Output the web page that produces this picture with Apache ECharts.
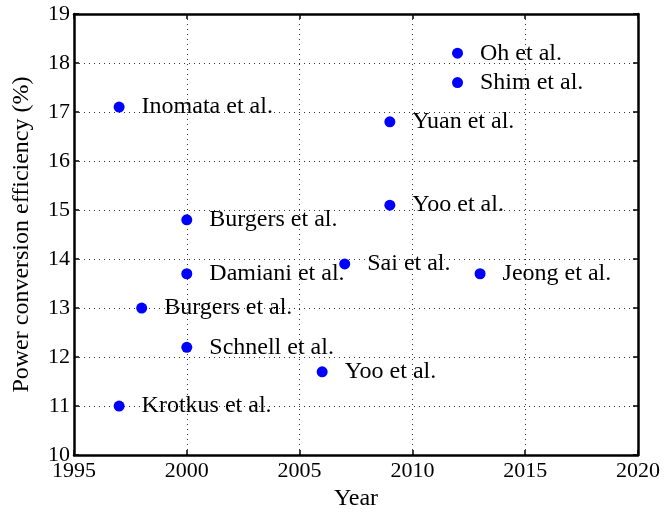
<!DOCTYPE html>
<html>
<head>
<meta charset="utf-8">
<script src="https://cdn.jsdelivr.net/npm/echarts@6/dist/echarts.min.js"></script>
<style>
  html, body { margin: 0; padding: 0; background: #fff; }
  #chart { width: 664px; height: 516px; }
</style>
</head>
<body>
<div id="chart"></div>
<script>
// values
var years = [1997, 2012, 2012, 2009, 2009, 2000, 2000, 2007, 2013, 1998, 2000, 2006, 1997]
var efficiency = [17.1, 18.2, 17.6, 16.8, 15.1, 14.8, 13.7, 13.9, 13.7, 13.0, 12.2, 11.7, 11.0]
var authors = ['Inomata et al.', 'Oh et al.', 'Shim et al.', 'Yuan et al.', 'Yoo et al.',
  'Burgers et al.', 'Damiani et al.', 'Sai et al.', 'Jeong et al.', 'Burgers et al.',
  'Schnell et al.', 'Yoo et al.', 'Krotkus et al.']

var serif = 'Liberation Serif'

var points = years.map(function (y, i) {
  return { value: [y, efficiency[i]], name: authors[i] }
})

var frame = { onZero: false, lineStyle: { color: '#000', width: 2.5 } }
var ticks = { inside: true, length: 5, lineStyle: { color: '#000', width: 1.5 } }
var grid = { show: true, lineStyle: { color: '#333', type: [1, 4], width: 1 } }

var chart = echarts.init(document.getElementById('chart'))
chart.setOption({
  animation: false,
  textStyle: { fontFamily: serif },
  grid: { left: 74, right: 26, top: 14, bottom: 57 },
  xAxis: [{
    type: 'value',
    min: 1995,
    max: 2020,
    interval: 5,
    name: 'Year',
    nameLocation: 'middle',
    nameGap: 31,
    nameTextStyle: { color: '#000', fontSize: 24, fontFamily: serif },
    axisLine: frame,
    axisTick: ticks,
    axisLabel: { color: '#000', fontSize: 22, fontFamily: serif, margin: 5, formatter: function (v) { return String(v) } },
    splitLine: grid
  }, {
    type: 'value',
    position: 'top',
    min: 1995,
    max: 2020,
    interval: 5,
    axisLine: frame,
    axisTick: ticks,
    axisLabel: { show: false },
    splitLine: { show: false }
  }],
  yAxis: [{
    type: 'value',
    min: 10,
    max: 19,
    interval: 1,
    name: 'Power conversion efficiency (%)',
    nameLocation: 'middle',
    nameGap: 40,
    nameTextStyle: { color: '#000', fontSize: 24, fontFamily: serif },
    axisLine: frame,
    axisTick: ticks,
    axisLabel: { color: '#000', fontSize: 22, fontFamily: serif, margin: 4 },
    splitLine: grid
  }, {
    type: 'value',
    position: 'right',
    min: 10,
    max: 19,
    interval: 1,
    axisLine: frame,
    axisTick: ticks,
    axisLabel: { show: false },
    splitLine: { show: false }
  }],
  series: [{
    type: 'scatter',
    symbolSize: 11,
    itemStyle: { color: '#0000ff', opacity: 1 },
    label: {
      show: true,
      position: 'right',
      distance: 17,
      formatter: '{b}',
      color: '#000',
      fontSize: 24,
      fontFamily: serif
    },
    data: points
  }]
})
</script>
</body>
</html>
